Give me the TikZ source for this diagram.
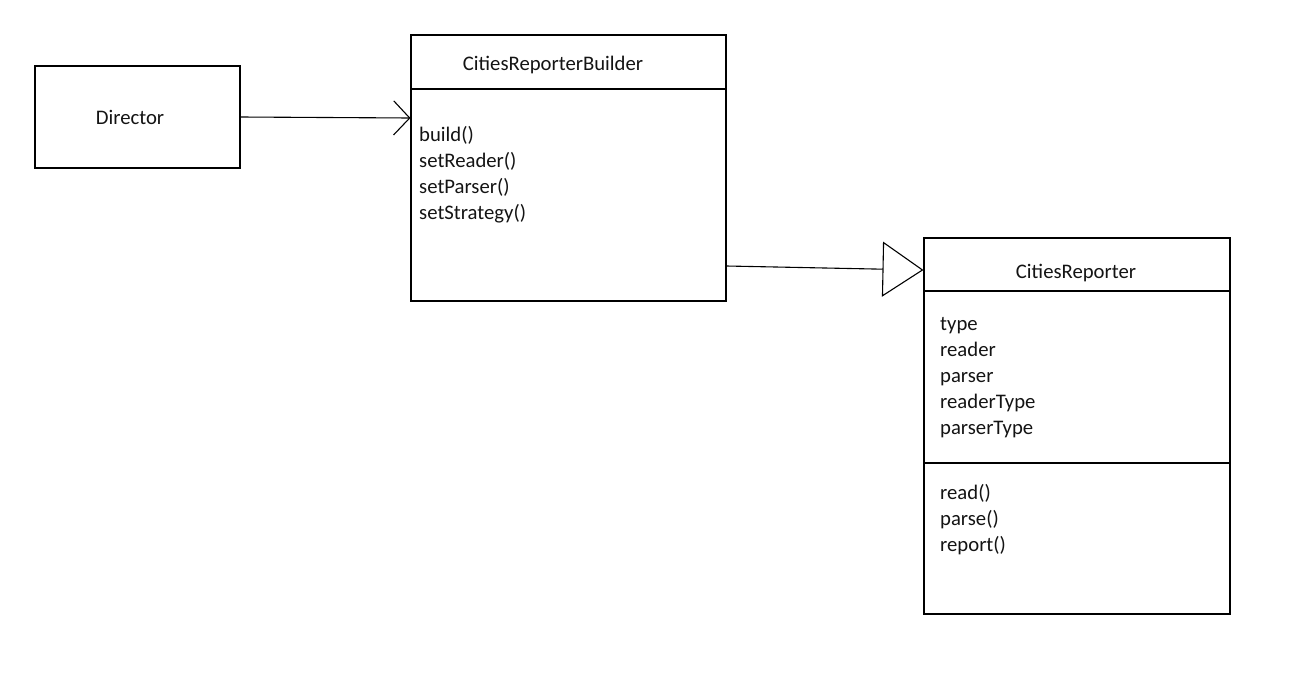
\documentclass[tikz,border=0pt]{standalone}
\usepackage{fontspec}
\setmainfont{Carlito}
\usepackage{tikz}
\usetikzlibrary{arrows.meta,positioning}
\definecolor{umlLine}{RGB}{0,0,0}
\definecolor{umlText}{RGB}{20,20,20}

\begin{document}
\begin{tikzpicture}[x=1pt,y=-1pt,
  classbox/.style={draw=umlLine, line width=1.1pt, rectangle, inner sep=0pt, fill=white},
  umltext/.style={text=umlText, inner sep=0pt, font=\fontsize{20.7}{26}\selectfont},
  assoc/.style={draw=umlLine, line width=1.1pt, -{Straight Barb[length=16pt,width=34pt,line width=1.1pt]}},
  inherit/.style={draw=umlLine, line width=1.1pt, -{Triangle[open,length=41pt,width=55pt,line width=1.1pt]}}]
\useasboundingbox[fill=white] (0,0) rectangle (1300,675);
% boxes
\node[classbox, minimum width=205pt, minimum height=102pt] (director) at (137.5,117) {};
\node[classbox, minimum width=315pt, minimum height=266pt] (builder) at (568.5,168) {};
\node[classbox, minimum width=306pt, minimum height=376pt] (reporter) at (1077,426) {};
% compartments
\draw[umlLine, line width=1.1pt] (builder.west |- 0,89) -- (builder.east |- 0,89);
\draw[umlLine, line width=1.1pt] (reporter.west |- 0,291) -- (reporter.east |- 0,291);
\draw[umlLine, line width=1.1pt] (reporter.west |- 0,463) -- (reporter.east |- 0,463);
% names
\node[umltext, anchor=base] (directorName) at (130,124) {Director};
\node[umltext, anchor=base] (builderName) at (553,70) {CitiesReporterBuilder};
\node[umltext, anchor=base] (reporterName) at (1076,278) {CitiesReporter};
% members
\foreach \t [count=\i] in {build(),setReader(),setParser(),setStrategy()}
  \node[umltext, anchor=base west] (bm\i) at (419,{141+26*(\i-1)}) {\t};
\foreach \t [count=\i] in {type,reader,parser,readerType,parserType}
  \node[umltext, anchor=base west] (ra\i) at (940,{330+26*(\i-1)}) {\t};
\foreach \t [count=\i] in {read(),parse(),report()}
  \node[umltext, anchor=base west] (rm\i) at (940,{499+26*(\i-1)}) {\t};
% connectors
\coordinate (dirOut) at (director.east |- 0,117);
\coordinate (bldIn) at (builder.west |- 0,118);
\coordinate (bldOut) at (builder.east |- 0,266);
\coordinate (repIn) at (reporter.west |- 0,270);
\draw[assoc] (dirOut) -- (bldIn);
\draw[inherit] (bldOut) -- (repIn);
\end{tikzpicture}
\end{document}
